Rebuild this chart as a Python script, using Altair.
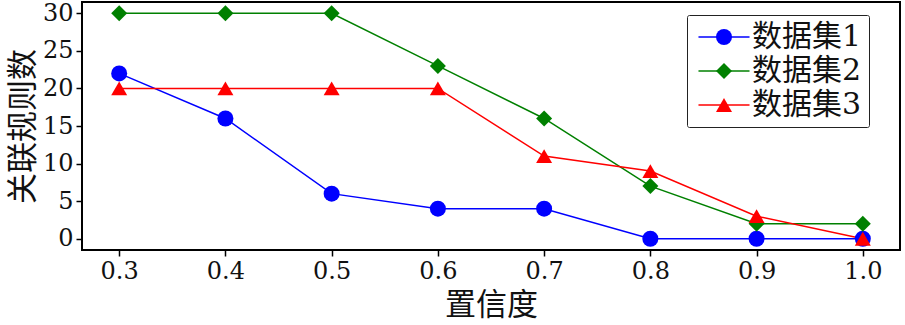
import altair as alt
import pandas as pd

confidence = [0.3, 0.4, 0.5, 0.6, 0.7, 0.8, 0.9, 1.0]
series_names = ["数据集1", "数据集2", "数据集3"]
series_keys = ["s1", "s2", "s3"]
ds1 = [22, 16, 6, 4, 4, 0, 0, 0]
ds2 = [30, 30, 30, 23, 16, 7, 2, 2]
ds3 = [20, 20, 20, 20, 11, 9, 3, 0]
colors = ["#0000ff", "#008000", "#ff0000"]
shapes = ["circle", "diamond", "triangle-up"]
y_ticks = [0, 5, 10, 15, 20, 25, 30]

rows = []
for name, key, vals in zip(series_names, series_keys, [ds1, ds2, ds3]):
    for i, (c, v) in enumerate(zip(confidence, vals)):
        rows.append({"置信度": c, "关联规则数": v, "series": name, "key": key, "order": i})
df = pd.DataFrame(rows)

FONT = "DejaVu Serif, Noto Sans CJK SC"

axis_style = dict(
    grid=False,
    domain=False,
    tickColor="#000",
    tickWidth=1.5,
    tickSize=6,
    labelFont=FONT,
    labelFontSize=24,
    labelColor="#111",
    titleFont=FONT,
    titleFontSize=31,
    titleFontWeight="normal",
    titleColor="#111",
    labelPadding=3,
)

x_enc = alt.X(
    "置信度:Q",
    scale=alt.Scale(domain=[0.265, 1.035], nice=False, zero=False),
    axis=alt.Axis(values=confidence, format=".1f", title="置信度", titlePadding=7, **axis_style),
)
y_enc = alt.Y(
    "关联规则数:Q",
    scale=alt.Scale(domain=[-1.5, 31.5], nice=False, zero=False),
    axis=alt.Axis(values=y_ticks, title="关联规则数", titlePadding=3, **axis_style),
)

common_legend = dict(
    title=None,
    orient="none",
    legendX=605,
    legendY=13,
    symbolSize=256,
    symbolOffset=15,
    labelOffset=13,
    labelFontSize=30,
    labelFont=FONT,
    padding=7,
    rowPadding=4,
)

# legend A: the line part of each entry, with labels and frame
legend_lines = alt.Legend(
    symbolType="M-3.19,0H3.19",
    symbolStrokeWidth=1.5,
    labelColor="#111",
    strokeColor="#222",
    fillColor="white",
    cornerRadius=2,
    zindex=1,
    **common_legend,
)
# legend B: the marker part, drawn on top of legend A
legend_marks = alt.Legend(
    symbolStrokeWidth=1.5,
    symbolOpacity=1,
    labelOpacity=0,
    zindex=2,
    **common_legend,
)

lines = alt.Chart(df).mark_line(strokeWidth=1.5).encode(
    x=x_enc,
    y=y_enc,
    stroke=alt.Stroke("series:N", scale=alt.Scale(domain=series_names, range=colors), legend=legend_lines),
    order="order:Q",
)

points = alt.Chart(df).mark_point(filled=True, opacity=1, size=256).encode(
    x=x_enc,
    y=y_enc,
    fill=alt.Fill("key:N", scale=alt.Scale(domain=series_keys, range=colors), legend=legend_marks),
    shape=alt.Shape("key:N", scale=alt.Scale(domain=series_keys, range=shapes), legend=legend_marks),
)

chart = (
    alt.layer(lines, points)
    .properties(
        width=818,
        height=248,
        autosize=alt.AutoSizeParams(type="none"),
        padding={"left": 82, "top": 2, "right": 5, "bottom": 75},
    )
    .configure_view(stroke="#000", strokeWidth=2)
)

chart.save("out.html", embed_options={"renderer": "svg", "actions": False})
